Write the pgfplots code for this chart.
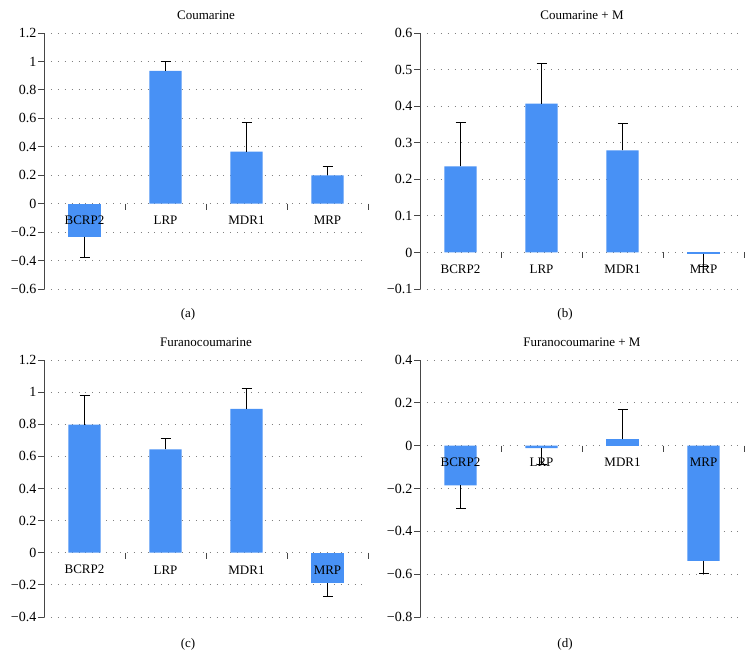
\documentclass[border=0pt]{standalone}
\usepackage{fontspec}
\setmainfont{Liberation Serif}
\usepackage{pgfplots}
\pgfplotsset{compat=1.18}
\definecolor{barblue}{RGB}{72,145,245}
\definecolor{axgray}{RGB}{70,70,70}
\newcommand\fs{\fontsize{13}{15}\selectfont}
\newcommand\fsn{\fontsize{14}{16}\selectfont}
\pgfplotsset{
  panel/.style={
    scale only axis, width=324pt, anchor=south west,
    xmin=-0.5, xmax=3.5, clip=false,
    axis x line=none, axis y line=left,
    axis line style={draw=axgray, line width=0.9pt, -},
    ymajorgrids, grid style={draw=gray, line width=0.9pt, dash pattern=on 0.9pt off 6pt},
    ytick align=outside, major tick length=6pt,
    ytick style={draw=axgray, line width=0.9pt},
    yticklabel style={font=\fsn, text=black, inner sep=1.5pt},
    title style={font=\fs, anchor=center, at={(0.5,1)}, yshift=12pt},
  },
  posbar/.style={ybar, bar width=0.4, bar shift=0pt, fill=barblue, draw=none,
    error bars/.cd, y dir=plus, y explicit,
    error bar style={black, line width=0.9pt},
    error mark options={rotate=90, mark size=5pt, line width=0.9pt, black}},
  negbar/.style={ybar, bar width=0.4, bar shift=0pt, fill=barblue, draw=none,
    error bars/.cd, y dir=minus, y explicit,
    error bar style={black, line width=0.9pt},
    error mark options={rotate=90, mark size=5pt, line width=0.9pt, black}},
}
\newcommand\catdeco{%
  \draw[axgray, line width=0.9pt] (axis cs:0.5,0) -- ([yshift=-6pt]axis cs:0.5,0);
  \draw[axgray, line width=0.9pt] (axis cs:1.5,0) -- ([yshift=-6pt]axis cs:1.5,0);
  \draw[axgray, line width=0.9pt] (axis cs:2.5,0) -- ([yshift=-6pt]axis cs:2.5,0);
  \draw[axgray, line width=0.9pt] (axis cs:3.5,0) -- ([yshift=-6pt]axis cs:3.5,0);
  \node[font=\fs, yshift=-17pt] at (axis cs:0,0) {BCRP2};
  \node[font=\fs, yshift=-17pt] at (axis cs:1,0) {LRP};
  \node[font=\fs, yshift=-17pt] at (axis cs:2,0) {MDR1};
  \node[font=\fs, yshift=-17pt] at (axis cs:3,0) {MRP};
}
\begin{document}
\begin{tikzpicture}
\path[use as bounding box] (0,0) rectangle (753pt,670pt);
% (a)
\begin{axis}[panel, at={(44pt,381pt)}, height=256pt,
  ymin=-0.6, ymax=1.2, ytick={-0.6,-0.4,-0.2,0,0.2,0.4,0.6,0.8,1,1.2},
  yticklabels={−0.6,−0.4,−0.2,0,0.2,0.4,0.6,0.8,1,1.2},
  title={Coumarine}]
\addplot[posbar] coordinates {(1,0.933) +- (0,0.065) (2,0.366) +- (0,0.206) (3,0.199) +- (0,0.061)};
\addplot[negbar] coordinates {(0,-0.234) +- (0,0.146)};
\catdeco
\end{axis}
% (b)
\begin{axis}[panel, at={(420pt,381pt)}, height=256pt,
  ymin=-0.1, ymax=0.6, ytick={-0.1,0,0.1,0.2,0.3,0.4,0.5,0.6},
  yticklabels={−0.1,0,0.1,0.2,0.3,0.4,0.5,0.6},
  title={Coumarine + M}]
\addplot[posbar] coordinates {(0,0.235) +- (0,0.121) (1,0.407) +- (0,0.109) (2,0.279) +- (0,0.073)};
\addplot[negbar] coordinates {(3,-0.004) +- (0,0.033)};
\catdeco
\end{axis}
% (c)
\begin{axis}[panel, at={(44pt,53pt)}, height=257pt,
  ymin=-0.4, ymax=1.2, ytick={-0.4,-0.2,0,0.2,0.4,0.6,0.8,1,1.2},
  yticklabels={−0.4,−0.2,0,0.2,0.4,0.6,0.8,1,1.2},
  title={Furanocoumarine}]
\addplot[posbar] coordinates {(0,0.798) +- (0,0.183) (1,0.644) +- (0,0.067) (2,0.896) +- (0,0.129)};
\addplot[negbar] coordinates {(3,-0.191) +- (0,0.083)};
\catdeco
\end{axis}
% (d)
\begin{axis}[panel, at={(420pt,53pt)}, height=257pt,
  ymin=-0.8, ymax=0.4, ytick={-0.8,-0.6,-0.4,-0.2,0,0.2,0.4},
  yticklabels={−0.8,−0.6,−0.4,−0.2,0,0.2,0.4},
  title={Furanocoumarine + M}]
\addplot[posbar] coordinates {(2,0.031) +- (0,0.137)};
\addplot[negbar] coordinates {(0,-0.185) +- (0,0.106) (1,-0.011) +- (0,0.078) (3,-0.538) +- (0,0.057)};
\catdeco
\end{axis}
\node[font=\fs] at (188pt,356pt) {(a)};
\node[font=\fs] at (565pt,356pt) {(b)};
\node[font=\fs] at (188pt,26pt) {(c)};
\node[font=\fs] at (565pt,26pt) {(d)};
\end{tikzpicture}
\end{document}
